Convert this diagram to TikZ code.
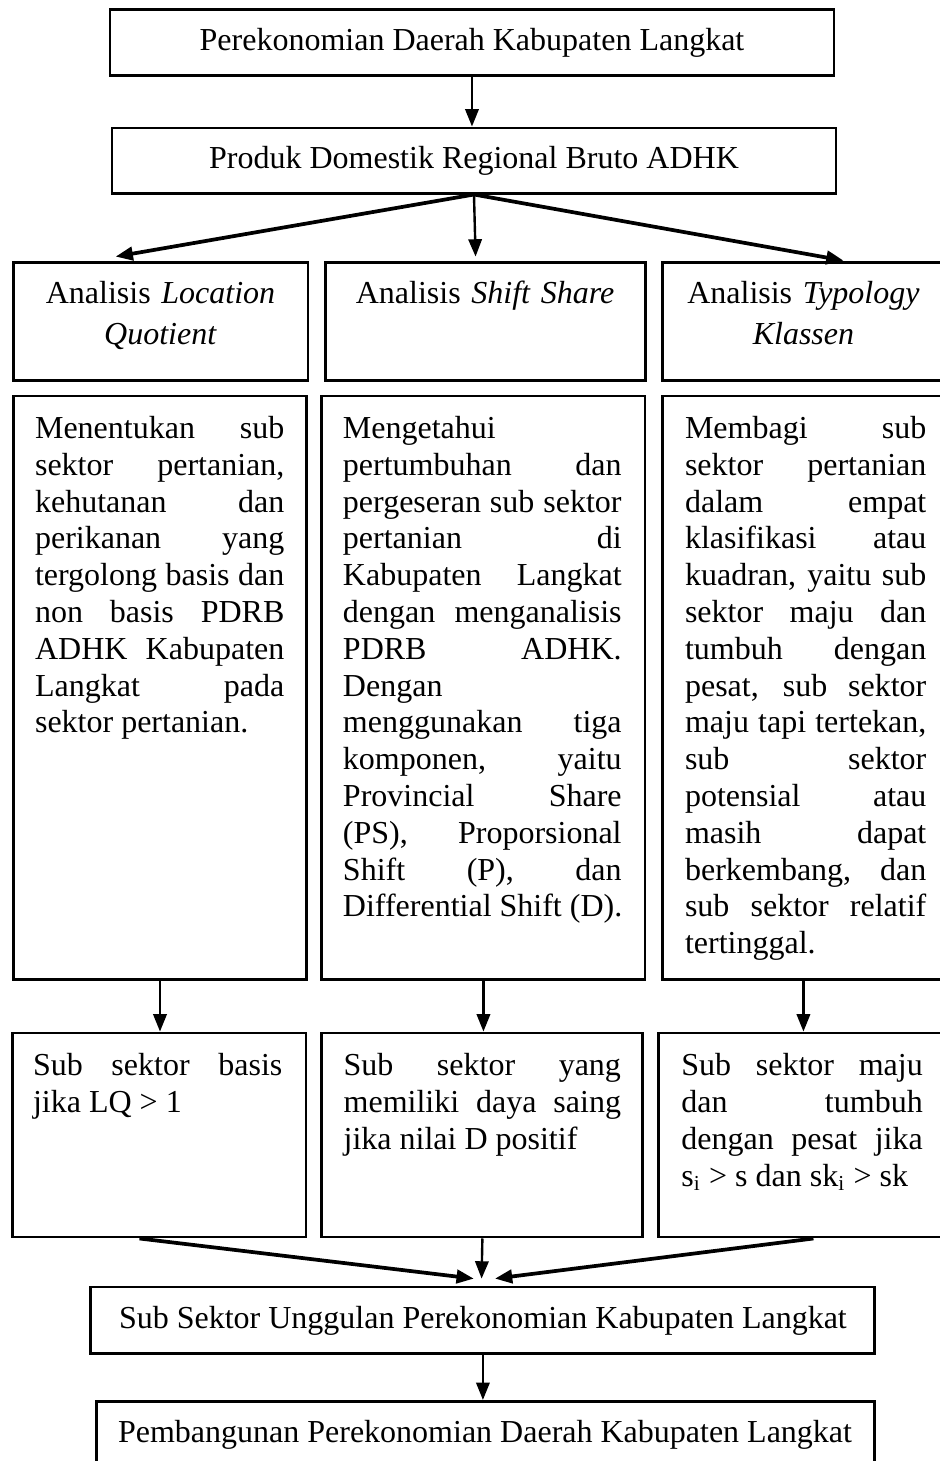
\documentclass[tikz,border=0pt]{standalone}
\usepackage{fontspec}
\setmainfont{Liberation Serif}
\usetikzlibrary{positioning,arrows.meta}
\hyphenpenalty=10000
\exhyphenpenalty=10000
\tikzset{
  box/.style={draw, line width=1.1pt, inner sep=0pt, font=\fontsize{12}{13.8}\selectfont},
  head/.style={inner sep=0pt, text width=104pt, align=center, font=\fontsize{12}{15.4}\selectfont},
  body/.style={inner sep=0pt, align=justify, font=\fontsize{12}{13.8}\selectfont},
  arr/.style={-{Triangle[length=6.5pt,width=5pt]}, line width=0.9pt},
  fork/.style={arr, line width=1.4pt}
}
\begin{document}
\begin{tikzpicture}[x=1pt,y=1pt]
   \clip (0,0) rectangle (352.5,-547.9);

   \node[box, minimum width=271.5pt, minimum height=24.75pt] (perek) at (177,-16.1) {Perekonomian Daerah Kabupaten Langkat};
   \node[box, minimum width=271.5pt, minimum height=24.4pt] (pdrb) at (177.75,-60.2) {Produk Domestik Regional Bruto ADHK};

   % heading boxes
   \node[box, minimum width=110.6pt, minimum height=44.25pt] (lqhead) at (60.2,-120.4) {};
   \node[box, minimum width=120pt, minimum height=44.25pt] (sshead) at (181.9,-120.4) {};
   \node[box, minimum width=105.4pt, minimum height=44.25pt] (tkhead) at (301.3,-120.4) {};
   \node[head, below=7.5pt of lqhead.north] (lqtitle) {Analisis \textit{Location}\\ \textit{Quotient}};
   \node[head, below=7.5pt of sshead.north] (sstitle) {Analisis \textit{Shift Share}};
   \node[head, below=7.5pt of tkhead.north] (tktitle) {Analisis \textit{Typology}\\ \textit{Klassen}};

   % description boxes
   \node[box, minimum width=110.2pt, minimum height=219pt] (lqdesc) at (60,-258) {};
   \node[box, minimum width=121.15pt, minimum height=219pt] (ssdesc) at (181.3,-258) {};
   \node[box, minimum width=105.4pt, minimum height=219pt] (tkdesc) at (301.3,-258) {};
   \node[body, text width=93.5pt, below right=8pt and 8.6pt of lqdesc.north west] (lqtext) {Menentukan sub\linebreak sektor pertanian,\linebreak kehutanan dan\linebreak perikanan yang\linebreak tergolong basis dan\linebreak non basis PDRB\linebreak ADHK Kabupaten\linebreak Langkat pada\linebreak sektor pertanian.};
   \node[body, text width=104.5pt, below right=8pt and 8.25pt of ssdesc.north west] (sstext) {Mengetahui\linebreak pertumbuhan dan\linebreak pergeseran sub sektor\linebreak pertanian di\linebreak Kabupaten Langkat\linebreak dengan menganalisis\linebreak PDRB ADHK.\linebreak Dengan\linebreak menggunakan tiga\linebreak komponen, yaitu\linebreak Provincial Share\linebreak (PS), Proporsional\linebreak Shift (P), dan\linebreak \mbox{Differential Shift (D).}};
   \node[body, text width=90.5pt, below right=8pt and 8.65pt of tkdesc.north west] (tktext) {Membagi sub\linebreak sektor pertanian\linebreak dalam empat\linebreak klasifikasi atau\linebreak kuadran, yaitu sub\linebreak sektor maju dan\linebreak tumbuh dengan\linebreak pesat, sub sektor\linebreak maju tapi tertekan,\linebreak sub sektor\linebreak potensial atau\linebreak masih dapat\linebreak berkembang, dan\linebreak sub sektor relatif\linebreak tertinggal.};

   % result boxes
   \node[box, minimum width=109.9pt, minimum height=76.5pt] (lqres) at (59.8,-425.65) {};
   \node[box, minimum width=120.35pt, minimum height=76.5pt] (ssres) at (180.9,-425.65) {};
   \node[box, minimum width=107.9pt, minimum height=76.5pt] (tkres) at (301.05,-425.65) {};
   \node[body, text width=93.5pt, below right=8pt and 7.9pt of lqres.north west] (lqout) {Sub sektor basis\linebreak jika LQ > 1};
   \node[body, text width=104pt, below right=8pt and 8.5pt of ssres.north west] (ssout) {Sub sektor yang\linebreak memiliki daya saing\linebreak jika nilai D positif};
   \node[body, text width=90.5pt, below right=8pt and 8.8pt of tkres.north west] (tkout) {Sub sektor maju\linebreak dan tumbuh\linebreak dengan pesat jika\linebreak s\textsubscript{i} > s dan sk\textsubscript{i} > sk};

   \node[box, minimum width=294pt, minimum height=25.1pt] (ungg) at (181.1,-495.2) {Sub Sektor Unggulan Perekonomian Kabupaten Langkat};
   \node[box, minimum width=291.75pt, minimum height=24.75pt, anchor=north] (pemb) at (181.9,-525) {Pembangunan Perekonomian Daerah Kabupaten Langkat};

   \draw[arr] (perek.south) -- (perek.south |- pdrb.north);
   \draw[fork] (pdrb.south) -- ([xshift=39pt,yshift=1.5pt]lqhead.north west);
   \draw[arr] (pdrb.south) -- ([xshift=57pt,yshift=1.5pt]sshead.north west);
   \draw[fork] (pdrb.south) -- ([xshift=68.3pt]tkhead.north west);

   \draw[arr] (lqdesc.south) -- (lqdesc.south |- lqres.north);
   \draw[arr] (ssdesc.south) -- (ssdesc.south |- ssres.north);
   \draw[arr] (tkdesc.south) -- (tkdesc.south |- tkres.north);

   \draw[fork] ([xshift=48pt]lqres.south west) -- ([xshift=-3.4pt,yshift=2.6pt]ungg.north);
   \draw[arr] (ssres.south) -- ([xshift=-0.5pt,yshift=2.6pt]ungg.north);
   \draw[fork] ([xshift=58.5pt]tkres.south west) -- ([xshift=4.5pt,yshift=2.6pt]ungg.north);
   \draw[arr] (ungg.south) -- (ungg.south |- pemb.north);
  \end{tikzpicture}
\end{document}
